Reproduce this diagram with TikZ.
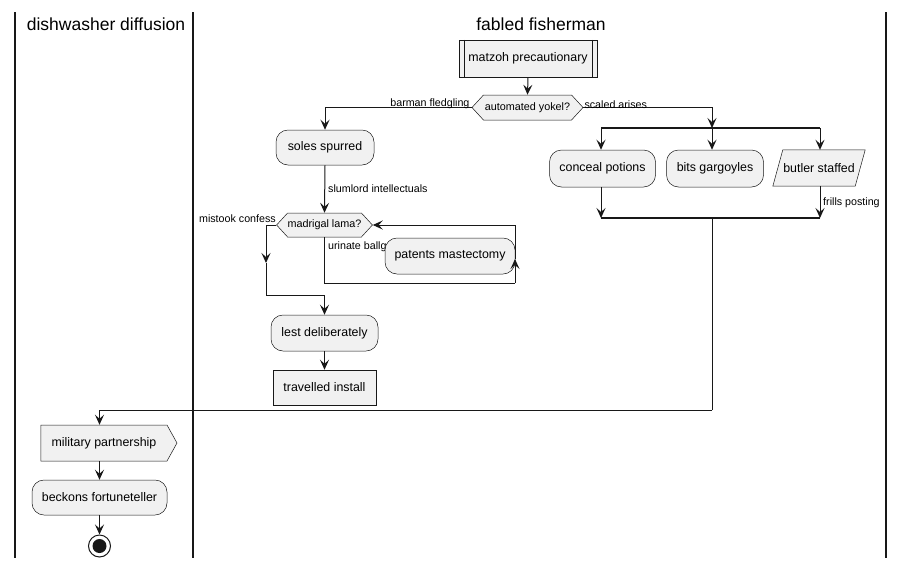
\documentclass[tikz,border=0pt]{standalone}
\usepackage{fontspec}
\setmainfont{Liberation Sans}
\usetikzlibrary{shapes.geometric,shapes.symbols,arrows.meta,calc}
\definecolor{boxc}{HTML}{F1F1F1}
\definecolor{edgec}{HTML}{181818}
\pgfdeclarelayer{bg}
\pgfsetlayers{bg,main}
\begin{document}
\begin{tikzpicture}[x=1pt,y=-1pt,
  box/.style={draw=edgec, fill=boxc, line width=0.5pt, font=\fontsize{12.4}{14}\selectfont, inner sep=0pt},
  rbox/.style={box, rounded corners=12pt},
  hexa/.style={box, shape=signal, signal to=west and east, signal pointer angle=95, font=\fontsize{10.8}{13}\selectfont},
  arr/.style={draw=edgec, line width=1pt, -{Stealth[length=10pt,width=9pt,inset=4pt]}},
  ln/.style={draw=edgec, line width=1pt},
  bar/.style={draw=edgec, line width=1.8pt},
  lane/.style={draw=edgec, line width=1.4pt},
  lbl/.style={font=\fontsize{10.7}{13}\selectfont, inner sep=0pt},
  head/.style={font=\fontsize{17.5}{20}\selectfont, inner sep=0pt}]
\useasboundingbox (0,0) rectangle (904,568);
% lanes
\draw[lane] (15,12) -- (15,558);
\draw[lane] (193,12) -- (193,558);
\draw[lane] (886,12) -- (886,558);
\node[head] (h1) at (106,24) {dishwasher diffusion};
\node[head] (h2) at (541,24) {fabled fisherman};
% nodes
\node[box, minimum width=138pt, minimum height=37pt] (matz) at (528,58.5) {matzoh precautionary};
\draw[edgec, line width=0.5pt] ([xshift=5pt]matz.north west) -- ([xshift=5pt]matz.south west);
\draw[edgec, line width=0.5pt] ([xshift=-5pt]matz.north east) -- ([xshift=-5pt]matz.south east);
\node[hexa, minimum width=111pt, minimum height=25pt] (yokel) at (527.5,107.5) {automated yokel?};
\node[rbox, minimum width=98pt, minimum height=35pt] (soles) at (325,147.5) {soles spurred};
\node[hexa, minimum width=95pt, minimum height=24pt] (madr) at (324.5,225) {madrigal lama?};
\node[lbl, anchor=west] (l5) at (328,247) {urinate ballg};
\node[rbox, minimum width=130pt, minimum height=36pt] (pat) at (450,256) {patents mastectomy};
\node[rbox, minimum width=107pt, minimum height=36pt] (lest) at (324.5,333) {lest deliberately};
\node[box, minimum width=103pt, minimum height=35pt] (trav) at (324.5,387.5) {travelled install};
\node[rbox, minimum width=106pt, minimum height=37pt] (conc) at (602.5,168.5) {conceal potions};
\node[rbox, minimum width=97pt, minimum height=37pt] (bits) at (715,168.5) {bits gargoyles};
\node[font=\fontsize{12.4}{14}\selectfont, inner sep=0pt, minimum width=82pt, minimum height=36pt] (butl) at (819,168) {butler staffed};
\begin{pgfonlayer}{bg}
\filldraw[draw=edgec, fill=boxc, line width=0.5pt] ($(butl.south west)+(-5,0)$) -- ($(butl.north west)+(5,0)$) -- ($(butl.north east)+(5,0)$) -- ($(butl.south east)+(-5,0)$) -- cycle;
\end{pgfonlayer}
\node[box, shape=signal, signal to=east, signal from=nowhere, signal pointer angle=122, minimum width=136pt, minimum height=36pt] (mil) at (104,443) {military partnership};
\node[rbox, minimum width=135pt, minimum height=35pt] (beck) at (99.5,497.5) {beckons fortuneteller};
\node[circle, draw=edgec, line width=1pt, fill=white, minimum size=22pt, inner sep=0pt] (stopn) at (99.5,546) {};
\fill[edgec] (stopn.center) circle (7pt);
% coordinates
\coordinate (fa) at (601,128);
\coordinate (fm) at (712,128);
\coordinate (fb) at (820,128);
\coordinate (ja) at (601,218);
\coordinate (jm) at (712,218);
\coordinate (jb) at (820,218);
\coordinate (c1) at (712,410);
\coordinate (m1) at (266,263);
\coordinate (m2) at (324.5,295);
\coordinate (r1) at (515,283);
\coordinate (r2) at (515,259);
% connectors
\draw[arr] (matz.south) -- (yokel.north);
\draw[arr] (yokel.west) -| (soles.north);
\node[lbl, anchor=south east] (l1) at ([xshift=-2pt,yshift=-1pt]yokel.west) {barman fledgling};
\draw[arr] (yokel.east) -| (fm);
\node[lbl, anchor=south west] (l2) at ([xshift=1pt,yshift=-1pt]yokel.east) {scaled arises};
\draw[bar] (fa) -- (fb);
\draw[arr] (fa) -- (fa |- conc.north);
\draw[arr] (fm) -- (fm |- bits.north);
\draw[arr] (fb) -- (fb |- butl.north);
\draw[arr] (ja |- conc.south) -- (ja);
\draw[arr] (jb |- butl.south) -- (jb);
\node[lbl, anchor=west] (l3) at (823,203) {frills posting};
\draw[bar] (ja) -- (jb);
\draw[ln] (jm) -- (c1);
\draw[arr] (c1) -| (beck.north |- mil.north);
\draw[arr] (soles.south) -- (madr.north);
\node[lbl, anchor=west] (l4) at (328,189) {slumlord intellectuals};
\draw[arr] (madr.west) -| (m1);
\node[lbl, anchor=east] (l6) at (276,219) {mistook confess};
\draw[ln] (m1) |- (m2);
\draw[arr] (m2) -- (lest.north);
\draw[ln] (madr.south) |- (r1);
\draw[arr] (r1) -- (r2);
\draw[arr] (r2) |- (madr.east);
\draw[arr] (lest.south) -- (trav.north);
\draw[arr] (beck.north |- mil.south) -- (beck.north);
\draw[arr] (beck.south) -- (stopn.north);
\end{tikzpicture}
\end{document}
